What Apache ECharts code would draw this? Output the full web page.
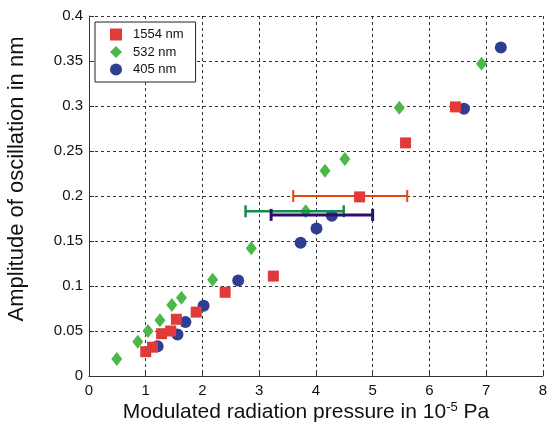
<!DOCTYPE html>
<html>
<head>
<meta charset="utf-8">
<script src="https://cdn.jsdelivr.net/npm/echarts@6/dist/echarts.min.js"></script>
<style>html,body{margin:0;padding:0;background:#fff}#c{width:550px;height:427px}</style>
</head>
<body>
<div id="c"></div>
<script>
// Data (x in 1e-5 Pa, y in nm)
var red1554 = [[1.00,0.027],[1.12,0.032],[1.28,0.047],[1.44,0.050],[1.54,0.063],[1.89,0.071],[2.40,0.093],[3.25,0.111],[4.77,0.199],[5.58,0.259],[6.46,0.299]];
var green532 = [[0.49,0.019],[0.86,0.038],[1.04,0.050],[1.25,0.062],[1.46,0.079],[1.63,0.087],[2.18,0.107],[2.86,0.142],[3.82,0.183],[4.16,0.228],[4.51,0.241],[5.47,0.298],[6.92,0.347]];
var blue405 = [[1.21,0.033],[1.56,0.046],[1.70,0.060],[2.02,0.078],[2.63,0.106],[3.73,0.148],[4.01,0.164],[4.28,0.178],[6.61,0.297],[7.26,0.365]];
// error bars: [y, xLow, xHigh]
var errOrange = [[0.200,3.60,5.61]];
var errGreen = [[0.183,2.76,4.49]];
var errPurple = [[0.179,3.21,5.00]];
var xTicks = [0,1,2,3,4,5,6,7,8];
var yTicks = [0,0.05,0.1,0.15,0.2,0.25,0.3,0.35,0.4];

var chart = echarts.init(document.getElementById('c'));
function errSeries(data, color, lw, z) {
  return {
    type: 'custom', z: z, silent: true,
    data: data,
    encode: {x: [1, 2], y: 0},
    renderItem: function (params, api) {
      var y = api.value(0);
      var a = api.coord([api.value(1), y]);
      var b = api.coord([api.value(2), y]);
      var h = 6;
      var st = {stroke: color, lineWidth: lw};
      return {type: 'group', children: [
        {type: 'line', shape: {x1: a[0], y1: a[1], x2: b[0], y2: b[1]}, style: st},
        {type: 'line', shape: {x1: a[0], y1: a[1]-h, x2: a[0], y2: a[1]+h}, style: st},
        {type: 'line', shape: {x1: b[0], y1: b[1]-h, x2: b[0], y2: b[1]+h}, style: st}
      ]};
    }
  };
}
var font = 'Liberation Sans, Arial, sans-serif';
chart.setOption({
  animation: false,
  backgroundColor: '#fff',
  grid: {left: 89, right: 5, top: 16, bottom: 51, show: true, borderColor: '#333', borderWidth: 0},
  legend: {
    orient: 'vertical', left: 95, top: 22,
    padding: [6, 12, 6, 15],
    itemWidth: 12, itemHeight: 12, itemGap: 4.5,
    borderColor: '#222', borderWidth: 1, backgroundColor: '#fff',
    textStyle: {fontFamily: font, fontSize: 13, color: '#111', padding: [0, 0, 0, 6]},
    data: ['1554 nm', '532 nm', '405 nm']
  },
  xAxis: {
    type: 'value', min: xTicks[0], max: xTicks[xTicks.length-1], interval: 1,
    axisLine: {show: true, onZero: false, lineStyle: {color: '#333', width: 1}},
    axisTick: {show: true, inside: true, length: 5, lineStyle: {color: '#333'}},
    axisLabel: {fontFamily: font, fontSize: 15, color: '#111', margin: 7},
    splitLine: {show: true, lineStyle: {type: [3, 3], color: '#333', width: 1}}
  },
  yAxis: {
    type: 'value', min: yTicks[0], max: yTicks[yTicks.length-1], interval: 0.05,
    axisLine: {show: true, onZero: false, lineStyle: {color: '#333', width: 1}},
    axisTick: {show: true, inside: true, length: 5, lineStyle: {color: '#333'}},
    axisLabel: {fontFamily: font, fontSize: 15, color: '#111', margin: 6},
    splitLine: {show: true, lineStyle: {type: [3, 3], color: '#333', width: 1}}
  },
  graphic: [
    {type: 'text', x: 306, y: 412, style: {
      text: '{a|Modulated radiation pressure in 10}{s|-5}{a| Pa}',
      align: 'center', verticalAlign: 'middle',
      rich: {a: {fontFamily: font, fontSize: 21, fill: '#111'}, s: {fontFamily: font, fontSize: 13, fill: '#111', verticalAlign: 'top', padding: [0, 0, 10, 0]}}
    }},
    {type: 'text', x: 17, y: 179, rotation: Math.PI/2, style: {
      text: 'Amplitude of oscillation in nm', fontFamily: font, fontSize: 22, fill: '#111',
      align: 'center', verticalAlign: 'middle'
    }}
  ],
  series: [
    {name: '532 nm', type: 'scatter', data: green532, symbol: 'diamond', symbolSize: [11, 14], itemStyle: {color: '#4cb848', opacity: 1}, z: 3},
    {name: '405 nm', type: 'scatter', data: blue405, symbol: 'circle', symbolSize: 12, itemStyle: {color: '#2e3f93', opacity: 1}, z: 3},
    errSeries(errGreen, '#178a50', 2.5, 4),
    errSeries(errPurple, '#2c0e6e', 3, 4),
    errSeries(errOrange, '#e8450e', 2, 4),
    {name: '1554 nm', type: 'scatter', data: red1554, symbol: 'rect', symbolSize: 11, itemStyle: {color: '#e03a3a', opacity: 1}, z: 5}
  ]
});
</script>
</body>
</html>
